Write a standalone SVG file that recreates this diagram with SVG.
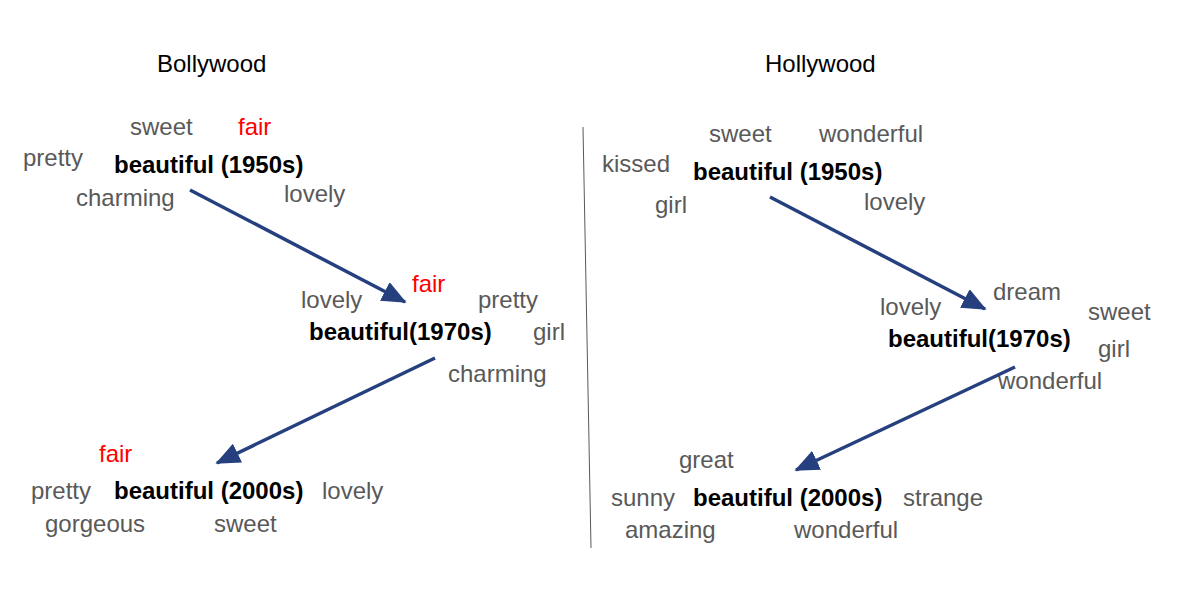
<svg xmlns="http://www.w3.org/2000/svg" width="1201" height="599" viewBox="0 0 1201 599">
<style>
text{font-family:"Liberation Sans",Arial,sans-serif;font-size:24px;fill:#595959}
.t{fill:#000}
.b{fill:#000;font-weight:bold}
.r{fill:#ff0000}
.a{stroke:#26407f;stroke-width:3.5;fill:none}
</style>
<defs>
<marker id="ah" markerWidth="7" markerHeight="6" refX="6.5" refY="3" orient="auto" markerUnits="strokeWidth">
<path d="M0,0 L7,3 L0,6 Z" fill="#26407f"/>
</marker>
</defs>
<rect width="1201" height="599" fill="#fff"/>
<text class="t" x="157" y="72">Bollywood</text>
<text class="t" x="765" y="72">Hollywood</text>
<line x1="583" y1="127" x2="591" y2="548" stroke="#595959" stroke-width="1"/>
<g id="b1950">
<text x="130" y="135">sweet</text>
<text class="r" x="238" y="135">fair</text>
<text x="23" y="166">pretty</text>
<text class="b" x="114" y="173">beautiful (1950s)</text>
<text x="76" y="206">charming</text>
<text x="284" y="202">lovely</text>
</g>
<g id="b1970">
<text class="r" x="412" y="292">fair</text>
<text x="301" y="308">lovely</text>
<text x="478" y="308">pretty</text>
<text class="b" x="309" y="340">beautiful(1970s)</text>
<text x="533" y="340">girl</text>
<text x="448" y="382">charming</text>
</g>
<g id="b2000">
<text class="r" x="99" y="462">fair</text>
<text x="31" y="499">pretty</text>
<text class="b" x="114" y="499">beautiful (2000s)</text>
<text x="322" y="499">lovely</text>
<text x="45" y="532">gorgeous</text>
<text x="214" y="532">sweet</text>
</g>
<g id="h1950">
<text x="709" y="142">sweet</text>
<text x="819" y="142">wonderful</text>
<text x="602" y="172">kissed</text>
<text class="b" x="693" y="180">beautiful (1950s)</text>
<text x="655" y="213">girl</text>
<text x="864" y="210">lovely</text>
</g>
<g id="h1970">
<text x="993" y="300">dream</text>
<text x="880" y="315">lovely</text>
<text x="1088" y="320">sweet</text>
<text class="b" x="888" y="347">beautiful(1970s)</text>
<text x="1098" y="357">girl</text>
<text x="998" y="389">wonderful</text>
</g>
<g id="h2000">
<text x="679" y="468">great</text>
<text x="611" y="506">sunny</text>
<text class="b" x="693" y="506">beautiful (2000s)</text>
<text x="903" y="506">strange</text>
<text x="625" y="538">amazing</text>
<text x="794" y="538">wonderful</text>
</g>
<g id="connectors">
<line class="a" x1="190" y1="190" x2="405" y2="302" marker-end="url(#ah)"/>
<line class="a" x1="435" y1="358" x2="217" y2="463" marker-end="url(#ah)"/>
<line class="a" x1="770" y1="197" x2="985" y2="309" marker-end="url(#ah)"/>
<line class="a" x1="1015" y1="367" x2="796" y2="470" marker-end="url(#ah)"/>
</g>
</svg>
